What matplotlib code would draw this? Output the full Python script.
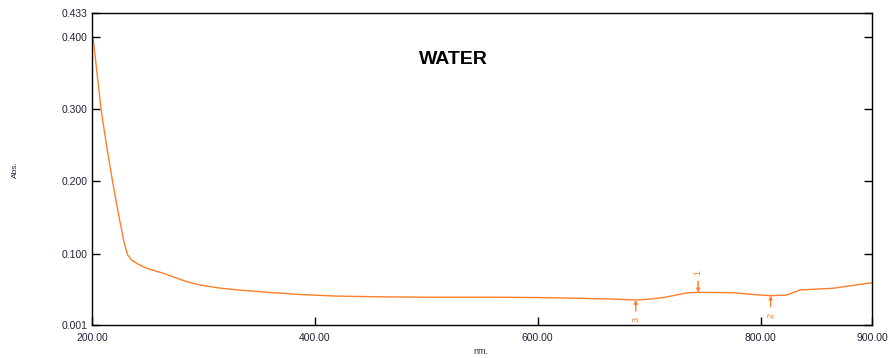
import numpy as np
import matplotlib
matplotlib.use('Agg')
import matplotlib.pyplot as plt

plt.rcParams['font.family'] = ['Liberation Sans', 'DejaVu Sans']

# スペクトルデータ
wavelength = [200, 201.2, 208.1, 213.2, 218.5, 224.5, 229, 232, 235.6, 241.6, 249.1,
              264, 275, 284, 297, 315, 333, 360, 387, 420,
              460, 500, 560, 600, 638, 665, 688, 698, 713, 734, 744, 775.5,
              796.5, 809, 823.5, 835.6, 865, 900]
absorb = [0.399, 0.3956, 0.300, 0.248, 0.1995, 0.1487, 0.114, 0.098, 0.091, 0.085, 0.0795,
          0.0726, 0.0665, 0.0615, 0.0564, 0.052, 0.0493, 0.046, 0.0432, 0.041,
          0.040, 0.0395, 0.0395, 0.039, 0.038, 0.037, 0.0356, 0.0366,
          0.039, 0.0455, 0.0462, 0.0457, 0.0428, 0.0416, 0.0425, 0.0495, 0.0519, 0.0596]

# ピーク検出マーカー
peak_nm = [744, 809, 688]
peak_lbl = ['1', '2', '3']
peak_up = [True, False, False]   # True: 上から下向きの矢印

xticks = [200, 400, 600, 800, 900]
yticks = [0.001, 0.1, 0.2, 0.3, 0.4, 0.433]

orange = '#ff7f2a'
tickcol = '#22223a'

fig = plt.figure(figsize=(8.9, 3.58), dpi=100)
ax = fig.add_axes([92/890, 1-325/358, 780/890, 312/358])
ax.plot(wavelength, absorb, color=orange, lw=1.0)

ax.set_xlim(200, 900)
ax.set_ylim(0.001, 0.433)
ax.set_xticks(xticks)
ax.set_xticklabels(['%.2f' % v for v in xticks])
ax.set_yticks(yticks)
ax.set_yticklabels(['%.3f' % v for v in yticks])
ax.tick_params(direction='in', length=6, width=1, labelsize=7.5,
               labelcolor=tickcol, right=True)
ax.tick_params(axis='x', pad=6)
ax.tick_params(axis='y', pad=3)
for s in ax.spines.values():
    s.set_linewidth(1)

# ピークの矢印とラベル
for nm, lbl, up in zip(peak_nm, peak_lbl, peak_up):
    y = np.interp(nm, wavelength, absorb)
    off = 8 if up else -8
    ax.annotate('', xy=(nm, y), xytext=(0, off), textcoords='offset points',
                arrowprops=dict(arrowstyle='-|>', color=orange, lw=1,
                                mutation_scale=5, shrinkA=0, shrinkB=0))
    ax.annotate(lbl, xy=(nm, y), xytext=(0, 14 if up else -14),
                textcoords='offset points', ha='center', va='center',
                rotation=90, fontsize=6.5, color=orange)

ax.text(0.463, 0.85, 'WATER', transform=ax.transAxes, ha='center',
        va='center', fontsize=14, fontweight='bold')

fig.text(15/890, 1-170/358, 'Abs.', rotation=90, ha='center', va='center',
         fontsize=6, color=tickcol)
fig.text(481/890, 1-351/358, 'nm.', ha='center', va='center',
         fontsize=6.5, color=tickcol)

fig.savefig('out.png', dpi=100)
